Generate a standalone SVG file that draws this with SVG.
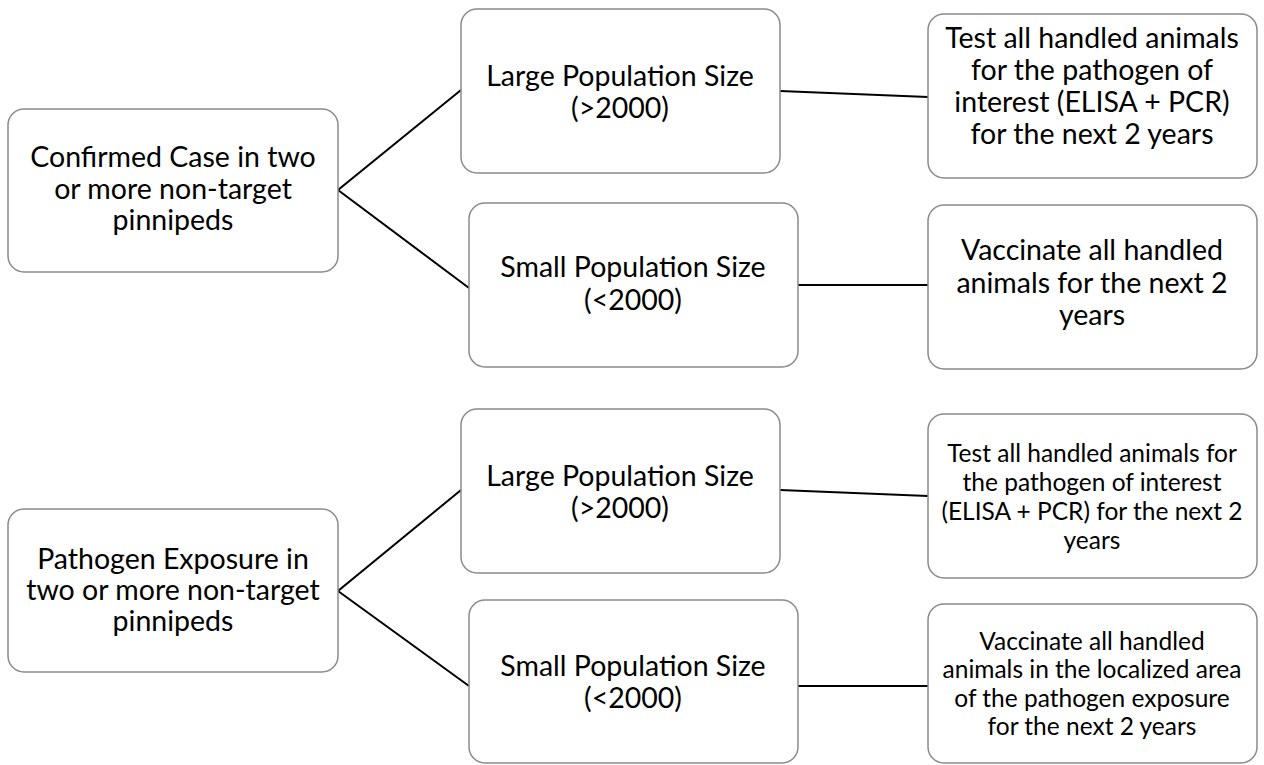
<svg xmlns="http://www.w3.org/2000/svg" width="1264" height="765" viewBox="0 0 1264 765">
<style>
.box{fill:#fff;stroke:#8a8a8a;stroke-width:1.5}
.t{font-family:Lato,"Open Sans",sans-serif;font-size:28.5px;fill:#000;text-anchor:middle}
.s{font-size:24.5px}
.c{stroke:#000;stroke-width:2;fill:none}
</style>
<rect width="1264" height="765" fill="#fff"/>
<g id="connectors">
<polyline class="c" points="461,90 338,190 469,288"/>
<line class="c" x1="780" y1="91" x2="928" y2="97"/>
<line class="c" x1="798" y1="285" x2="928" y2="285"/>
<polyline class="c" points="461,490 338,591 469,686"/>
<line class="c" x1="780" y1="490" x2="928" y2="496"/>
<line class="c" x1="798" y1="686" x2="928" y2="686"/>
</g>
<g id="n1"><rect class="box" x="8" y="109" width="330" height="163" rx="16"/>
<text class="t" x="173" y="167">Confirmed Case in two</text>
<text class="t" x="173" y="199">or more non-target</text>
<text class="t" x="173" y="230">pinnipeds</text></g>
<g id="n2"><rect class="box" x="461" y="9" width="319" height="164" rx="16"/>
<text class="t" x="620" y="86">Large Population Size</text>
<text class="t" x="620" y="118">(&gt;2000)</text></g>
<g id="n3"><rect class="box" x="928" y="14" width="329" height="164" rx="16"/>
<text class="t" x="1092" y="48">Test all handled animals</text>
<text class="t" x="1092" y="80">for the pathogen of</text>
<text class="t" x="1092" y="112">interest (ELISA + PCR)</text>
<text class="t" x="1092" y="144">for the next 2 years</text></g>
<g id="n4"><rect class="box" x="469" y="203" width="329" height="164" rx="16"/>
<text class="t" x="633" y="277">Small Population Size</text>
<text class="t" x="633" y="310">(&lt;2000)</text></g>
<g id="n5"><rect class="box" x="928" y="205" width="329" height="164" rx="16"/>
<text class="t" x="1092" y="260">Vaccinate all handled</text>
<text class="t" x="1092" y="293">animals for the next 2</text>
<text class="t" x="1092" y="325">years</text></g>
<g id="n6"><rect class="box" x="8" y="509" width="330" height="163" rx="16"/>
<text class="t" x="173" y="569">Pathogen Exposure in</text>
<text class="t" x="173" y="600">two or more non-target</text>
<text class="t" x="173" y="631">pinnipeds</text></g>
<g id="n7"><rect class="box" x="461" y="409" width="319" height="164" rx="16"/>
<text class="t" x="620" y="486">Large Population Size</text>
<text class="t" x="620" y="518">(&gt;2000)</text></g>
<g id="n8"><rect class="box" x="928" y="414" width="329" height="164" rx="16"/>
<text class="t s" x="1092" y="462">Test all handled animals for</text>
<text class="t s" x="1092" y="491">the pathogen of interest</text>
<text class="t s" x="1092" y="520">(ELISA + PCR) for the next 2</text>
<text class="t s" x="1092" y="549">years</text></g>
<g id="n9"><rect class="box" x="469" y="600" width="329" height="163" rx="16"/>
<text class="t" x="633" y="676">Small Population Size</text>
<text class="t" x="633" y="708">(&lt;2000)</text></g>
<g id="n10"><rect class="box" x="928" y="604" width="329" height="159" rx="16"/>
<text class="t s" x="1092" y="650">Vaccinate all handled</text>
<text class="t s" x="1092" y="678">animals in the localized area</text>
<text class="t s" x="1092" y="707">of the pathogen exposure</text>
<text class="t s" x="1092" y="735">for the next 2 years</text></g>
</svg>
